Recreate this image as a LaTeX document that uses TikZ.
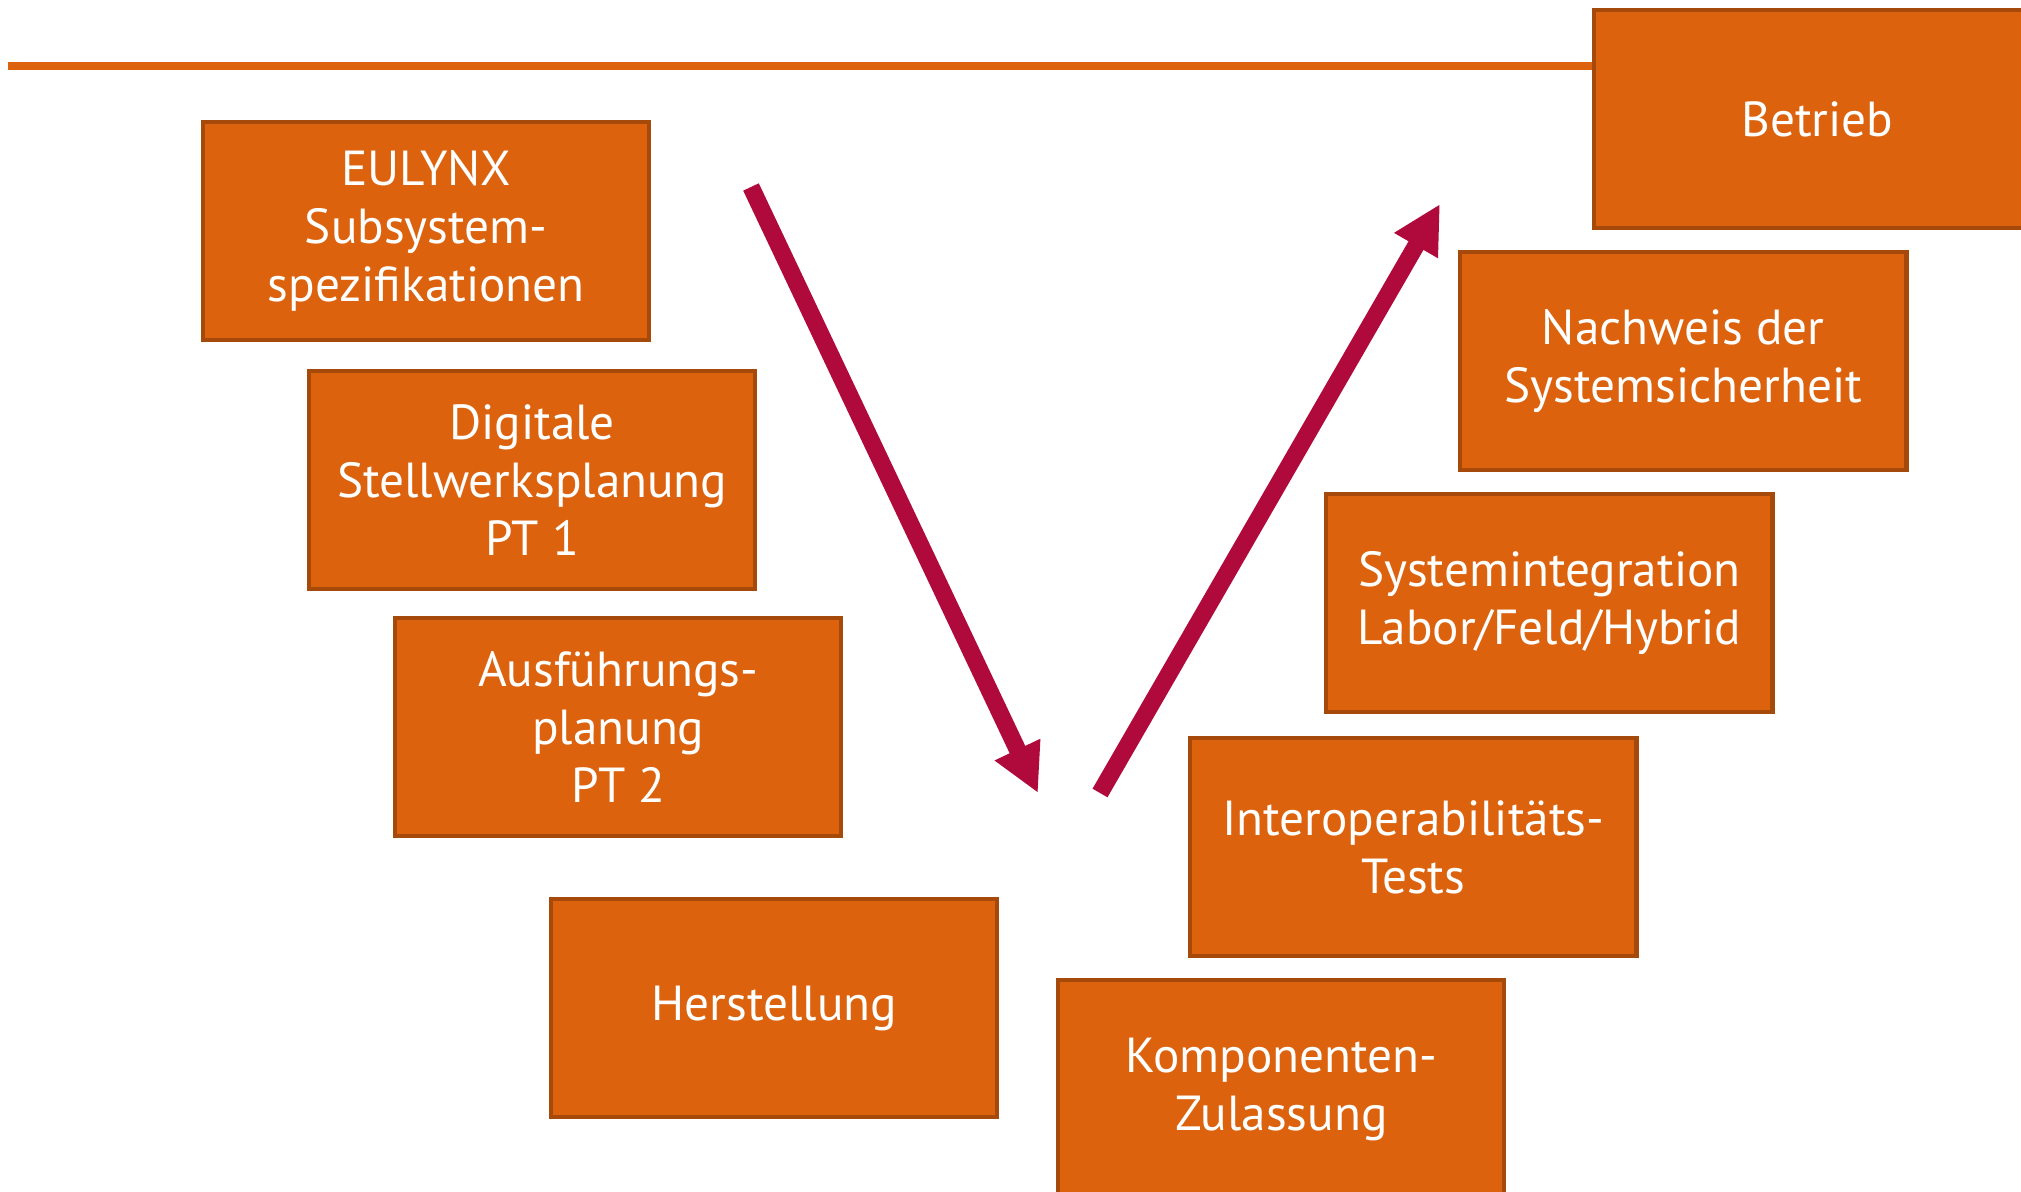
\documentclass[tikz,border=0pt]{standalone}
\usepackage{fontspec}
\setmainfont{PT Sans}
\usetikzlibrary{arrows.meta}
\definecolor{stageorange}{RGB}{220,98,14}
\definecolor{stageborder}{RGB}{166,74,12}
\definecolor{flowred}{RGB}{176,10,60}
\begin{document}
\begin{tikzpicture}[x=0.01cm, y=-0.01cm,
        stage/.style = {draw=stageborder, fill=stageorange, line width=1.2pt,
            minimum width=4.46cm, minimum height=2.18cm, inner sep=0pt,
            anchor=north west, align=center, text=white,
            font=\fontsize{14}{16.5}\selectfont},
        flow/.style = {draw=flowred, line width=4.9pt,
            -{Triangle[length=0.48cm, width=0.47cm]}}]
    \useasboundingbox (0,0) rectangle (2021,1192);
    % left branch
    \node[stage] (eulynx) at (201,120) {EULYNX\\Subsystem-\\spezifikationen};
    \node[stage] (digital) at (307,369) {Digitale\\Stellwerksplanung\\PT 1};
    \node[stage] (ausf) at (393,616) {Ausführungs-\\planung\\PT 2};
    \node[stage] (herst) at (549,897) {Herstellung};
    % right branch
    \node[stage] (komp) at (1056,978) {Komponenten-\\Zulassung};
    \node[stage] (interop) at (1188,736) {Interoperabilitäts-\\Tests};
    \node[stage] (integr) at (1324,492) {Systemintegration\\Labor/Feld/Hybrid};
    \node[stage] (nachweis) at (1458,250) {Nachweis der\\Systemsicherheit};
    \node[stage] (betrieb) at (1592,8) {Betrieb};
    % top line
    \coordinate (linestart) at (8,66);
    \draw[stageorange, line width=2.2pt] (linestart) -- (linestart -| betrieb.west);
    % arrows
    \coordinate (downstart) at (751,187);
    \coordinate (downend) at (1038,793);
    \coordinate (upstart) at (1100,793);
    \coordinate (upend) at (1440,204);
    \draw[flow] (downstart) -- (downend);
    \draw[flow] (upstart) -- (upend);
\end{tikzpicture}
\end{document}
